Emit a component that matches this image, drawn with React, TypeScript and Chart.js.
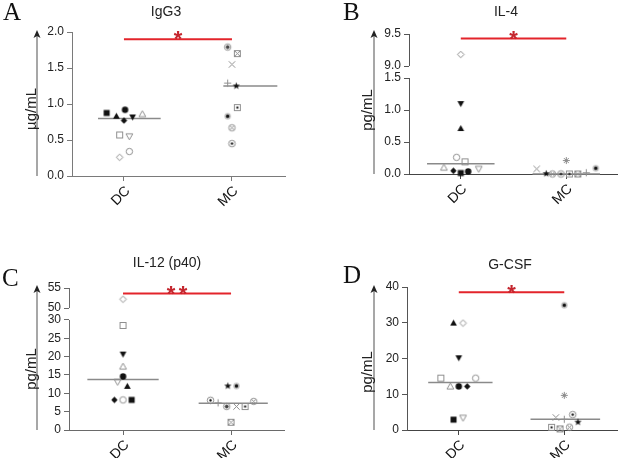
import React, { useEffect, useRef } from "react";
import { Chart, registerables } from "chart.js";
Chart.register(...registerables);

const categories = ["DC", "MC"];

// ---------- Panel A : IgG3 (µg/mL) ----------
const igg3DC = [0.875, 0.83, 0.92, 0.77, 0.82, 0.86, 0.57, 0.55, 0.26, 0.34];
const igg3DCJitter = [-0.16, -0.07, 0.01, 0, 0.08, 0.17, -0.04, 0.05, -0.04, 0.05];
const igg3DCMarkers = ["fsq", "ftu", "fci", "fdi", "ftd", "otu", "osq", "otd", "odi", "oci"];
const igg3MC = [1.79, 1.7, 1.55, 1.29, 1.25, 0.95, 0.83, 0.67, 0.45];
const igg3MCJitter = [-0.04, 0.05, 0, -0.04, 0.04, 0.05, -0.04, 0, 0];
const igg3MCMarkers = ["ciast", "sqx", "x", "plus", "fst", "sqdot", "cidotf", "cix", "cidot"];
const igg3Medians = [0.8, 1.25];
const igg3MedianSpans = [[-0.24, 0.34], [-0.08, 0.42]];
const igg3Sig = 1.9;
const igg3Ticks = [0, 0.5, 1.0, 1.5, 2.0];

// ---------- Panel B : IL-4 (pg/mL) ----------
const il4DC = [9.18, 1.1, 0.71, 0.26, 0.19, 0.1, 0.05, 0.015, 0.04, 0.08];
const il4DCJitter = [0, 0, 0, -0.04, 0.04, -0.16, -0.07, 0, 0.07, 0.17];
const il4DCMarkers = ["odi", "ftd", "ftu", "oci", "osq", "otu", "fdi", "fsq", "fci", "otd"];
const il4MC = [0.08, 0.005, 0, 0, 0, 0, 0.02, 0.09, 0.21];
const il4MCJitter = [-0.28, -0.19, -0.13, -0.05, 0.03, 0.11, 0.19, 0.28, 0];
const il4MCMarkers = ["x", "fst", "cix", "cidot", "sqdot", "sqx", "plus", "cidotf", "ast"];
const il4Medians = [0.16, 0.0];
const il4MedianSpans = [[-0.32, 0.32], [-0.32, 0.32]];
const il4Sig = 9.43;
const il4Ticks = [0, 0.5, 1.0, 1.5, 9.0, 9.5];

// ---------- Panel C : IL-12 (p40) (pg/mL) ----------
const il12DC = [52.2, 28.5, 20.7, 17.3, 14.6, 13.1, 11.9, 8.2, 8.2, 8.2];
const il12DCJitter = [0, 0, 0, 0, 0, -0.05, 0.04, -0.08, 0, 0.08];
const il12DCMarkers = ["odi", "osq", "ftd", "otu", "fci", "otd", "ftu", "fdi", "oci", "fsq"];
const il12MC = [12.0, 12.0, 8.1, 7.4, 6.4, 6.4, 6.4, 7.8, 2.1];
const il12MCJitter = [-0.03, 0.05, -0.19, -0.12, -0.04, 0.05, 0.13, 0.21, 0];
const il12MCMarkers = ["fst", "cidotf", "cidot", "plus", "ciast", "x", "sqdot", "cix", "sqx"];
const il12Medians = [13.8, 7.3];
const il12MedianSpans = [[-0.33, 0.33], [-0.3, 0.34]];
const il12Sig = 53.6;
const il12Ticks = [0, 5, 10, 15, 20, 25, 30, 50, 55];

// ---------- Panel D : G-CSF (pg/mL) ----------
const gcsfDC = [29.9, 29.9, 20.2, 14.5, 14.5, 12.2, 12.2, 12.2, 2.9, 3.4];
const gcsfDCJitter = [-0.05, 0.04, 0, -0.17, 0.16, -0.08, 0, 0.08, -0.05, 0.04];
const gcsfDCMarkers = ["ftu", "odi", "ftd", "osq", "oci", "otu", "fci", "fdi", "fsq", "otd"];
const gcsfMC = [34.9, 9.7, 3.5, 3.0, 4.3, 2.2, 0.75, 0.3, 0.8];
const gcsfMCJitter = [0, 0, -0.08, 0, 0.08, 0.13, -0.12, -0.04, 0.05];
const gcsfMCMarkers = ["cidotf", "ast", "x", "plus", "cidot", "fst", "sqdot", "sqx", "cix"];
const gcsfMedians = [13.3, 3.0];
const gcsfMedianSpans = [[-0.29, 0.32], [-0.32, 0.34]];
const gcsfSig = 38.5;
const gcsfTicks = [0, 10, 20, 30, 40];

const SANS = '"Liberation Sans", Arial, Helvetica, sans-serif';
const SERIF = '"Liberation Serif", "Times New Roman", serif';

type Brk = { lowMax: number; gap: number; highMin: number; highK: number };

type PanelCfg = {
  letter: string; title: string; unit: string; stars: number;
  x: number; y: number;
  area: { left: number; right: number; top: number; bottom: number };
  xMin: number; xMax: number; yMax: number; brk?: Brk; decimals: number;
  ticks: number[];
  dc: number[]; dcJ: number[]; dcM: string[];
  mc: number[]; mcJ: number[]; mcM: string[];
  med: number[]; spans: number[][]; sig: number;
  axisColor: string; xAxisColor: string;
  letterPos: [number, number]; titlePos: [number, number];
  arrowX: number; arrowTip: number; labelPos: [number, number];
};

function makeMarker(kind: string): HTMLCanvasElement {
  const S = 13;
  const c = document.createElement("canvas");
  c.width = S; c.height = S;
  const g = c.getContext("2d")!;
  g.translate(S / 2, S / 2);
  const black = "#111";
  const gray = "#8f8f8f";
  const dark = "#444";
  g.lineWidth = 1;
  const poly = (pts: number[][]) => {
    g.beginPath();
    pts.forEach((p, i) => (i ? g.lineTo(p[0], p[1]) : g.moveTo(p[0], p[1])));
    g.closePath();
  };
  const circ = (r: number) => { g.beginPath(); g.arc(0, 0, r, 0, Math.PI * 2); };
  const line = (a: number, b: number, c2: number, d: number) => { g.beginPath(); g.moveTo(a, b); g.lineTo(c2, d); g.stroke(); };
  switch (kind) {
    case "fsq": g.fillStyle = black; g.fillRect(-3, -3, 6, 6); break;
    case "fci": g.fillStyle = black; circ(3.2); g.fill(); break;
    case "ftu": g.fillStyle = black; poly([[0, -3.4], [3.4, 2.6], [-3.4, 2.6]]); g.fill(); break;
    case "ftd": g.fillStyle = black; poly([[0, 3.4], [3.4, -2.6], [-3.4, -2.6]]); g.fill(); break;
    case "fdi": g.fillStyle = black; poly([[0, -3.2], [3.2, 0], [0, 3.2], [-3.2, 0]]); g.fill(); break;
    case "fst": {
      g.fillStyle = black;
      const pts: number[][] = [];
      for (let i = 0; i < 10; i++) {
        const r = i % 2 ? 1.6 : 3.8;
        const a = -Math.PI / 2 + (i * Math.PI) / 5;
        pts.push([r * Math.cos(a), r * Math.sin(a)]);
      }
      poly(pts); g.fill(); break;
    }
    case "osq": g.strokeStyle = gray; g.strokeRect(-3, -3, 6, 6); break;
    case "oci": g.strokeStyle = gray; circ(3.2); g.stroke(); break;
    case "otu": g.strokeStyle = gray; poly([[0, -3.4], [3.4, 2.6], [-3.4, 2.6]]); g.stroke(); break;
    case "otd": g.strokeStyle = gray; poly([[0, 3.4], [3.4, -2.6], [-3.4, -2.6]]); g.stroke(); break;
    case "odi": g.strokeStyle = gray; poly([[0, -3.3], [3.3, 0], [0, 3.3], [-3.3, 0]]); g.stroke(); break;
    case "x": g.strokeStyle = gray; line(-3.2, -3.2, 3.2, 3.2); line(-3.2, 3.2, 3.2, -3.2); break;
    case "plus": g.strokeStyle = gray; line(-3.6, 0, 3.6, 0); line(0, -3.6, 0, 3.6); break;
    case "ast":
      g.strokeStyle = gray;
      line(-3.5, 0, 3.5, 0); line(0, -3.5, 0, 3.5);
      line(-2.5, -2.5, 2.5, 2.5); line(-2.5, 2.5, 2.5, -2.5);
      break;
    case "sqx":
      g.strokeStyle = gray; g.strokeRect(-3, -3, 6, 6);
      line(-3, -3, 3, 3); line(-3, 3, 3, -3);
      break;
    case "sqdot":
      g.strokeStyle = gray; g.strokeRect(-3, -3, 6, 6);
      g.fillStyle = black; g.fillRect(-1, -1, 2, 2);
      break;
    case "cix":
      g.strokeStyle = gray; circ(3.2); g.stroke();
      line(-2.2, -2.2, 2.2, 2.2); line(-2.2, 2.2, 2.2, -2.2);
      break;
    case "cidot":
      g.strokeStyle = gray; circ(3.3); g.stroke();
      g.fillStyle = black; circ(1.2); g.fill();
      break;
    case "cidotf":
      g.fillStyle = "#bdbdbd"; circ(3.2); g.fill();
      g.fillStyle = black; circ(1.7); g.fill();
      break;
    case "ciast":
      g.strokeStyle = gray; circ(3.2); g.stroke();
      g.strokeStyle = dark;
      line(-2, 0, 2, 0); line(0, -2, 0, 2); line(-1.4, -1.4, 1.4, 1.4); line(-1.4, 1.4, 1.4, -1.4);
      break;
  }
  return c;
}

const panels: PanelCfg[] = [
  {
    letter: "A", title: "IgG3", unit: "µg/mL", stars: 1, x: 0, y: 0,
    area: { left: 72, right: 285, top: 32, bottom: 176 },
    xMin: 0.519, xMax: 2.491, yMax: 2.0, decimals: 1, ticks: igg3Ticks,
    dc: igg3DC, dcJ: igg3DCJitter, dcM: igg3DCMarkers,
    mc: igg3MC, mcJ: igg3MCJitter, mcM: igg3MCMarkers,
    med: igg3Medians, spans: igg3MedianSpans, sig: igg3Sig,
    axisColor: "#7a7a7a", xAxisColor: "#7a7a7a",
    letterPos: [3, 20], titlePos: [166, 12],
    arrowX: 37, arrowTip: 30, labelPos: [36, 109],
  },
  {
    letter: "B", title: "IL-4", unit: "pg/mL", stars: 1, x: 311, y: 0,
    area: { left: 98, right: 311, top: 34, bottom: 174 },
    xMin: 0.509, xMax: 2.481, yMax: 9.5, decimals: 1, ticks: il4Ticks,
    brk: { lowMax: 1.5, gap: 0.1875, highMin: 9.0, highK: 1 },
    dc: il4DC, dcJ: il4DCJitter, dcM: il4DCMarkers,
    mc: il4MC, mcJ: il4MCJitter, mcM: il4MCMarkers,
    med: il4Medians, spans: il4MedianSpans, sig: il4Sig,
    axisColor: "#555", xAxisColor: "#444",
    letterPos: [32, 20], titlePos: [195, 12],
    arrowX: 63, arrowTip: 30, labelPos: [61, 110],
  },
  {
    letter: "C", title: "IL-12 (p40)", unit: "pg/mL", stars: 2, x: 0, y: 229,
    area: { left: 69, right: 284, top: 59, bottom: 201 },
    xMin: 0.5, xMax: 2.49, yMax: 55, decimals: 0, ticks: il12Ticks,
    brk: { lowMax: 30, gap: 3.27, highMin: 50, highK: 1.0909 },
    dc: il12DC, dcJ: il12DCJitter, dcM: il12DCMarkers,
    mc: il12MC, mcJ: il12MCJitter, mcM: il12MCMarkers,
    med: il12Medians, spans: il12MedianSpans, sig: il12Sig,
    axisColor: "#6a6a6a", xAxisColor: "#6a6a6a",
    letterPos: [2, 57], titlePos: [167, 34],
    arrowX: 37, arrowTip: 56, labelPos: [36, 140],
  },
  {
    letter: "D", title: "G-CSF", unit: "pg/mL", stars: 1, x: 311, y: 229,
    area: { left: 96, right: 311, top: 58, bottom: 201 },
    xMin: 0.509, xMax: 2.5, yMax: 40, decimals: 0, ticks: gcsfTicks,
    dc: gcsfDC, dcJ: gcsfDCJitter, dcM: gcsfDCMarkers,
    mc: gcsfMC, mcJ: gcsfMCJitter, mcM: gcsfMCMarkers,
    med: gcsfMedians, spans: gcsfMedianSpans, sig: gcsfSig,
    axisColor: "#555", xAxisColor: "#444",
    letterPos: [32, 54], titlePos: [199, 36],
    arrowX: 63, arrowTip: 56, labelPos: [61, 143],
  },
];

const W = 311;
const H = 229;
const XH = 40;

function PanelChart({ p }: { p: PanelCfg }) {
  const ref = useRef<HTMLCanvasElement>(null);
  useEffect(() => {
    const canvas = ref.current!;
    const brk = p.brk;
    const toU = (v: number) =>
      !brk || v <= brk.lowMax ? v : brk.lowMax + brk.gap + (v - brk.highMin) * brk.highK;
    const tickLabels = p.ticks.map((t) => t.toFixed(p.decimals));

    const deco = {
      id: "deco" + p.letter,
      afterDraw(chart: any) {
        const ctx = chart.ctx as CanvasRenderingContext2D;
        const xs = chart.scales.x;
        const ys = chart.scales.y;
        ctx.save();
        // broken y axis line
        if (brk) {
          ctx.strokeStyle = p.axisColor;
          ctx.lineWidth = 1;
          const segs = [[0, brk.lowMax], [brk.highMin, p.yMax]];
          const ax = Math.round(chart.chartArea.left) + 0.5;
          segs.forEach(([a, b]) => {
            ctx.beginPath();
            ctx.moveTo(ax, ys.getPixelForValue(toU(a)));
            ctx.lineTo(ax, ys.getPixelForValue(toU(b)));
            ctx.stroke();
          });
        }
        // panel letter
        ctx.fillStyle = "#111";
        ctx.font = "25px " + SERIF;
        ctx.textAlign = "left";
        ctx.textBaseline = "alphabetic";
        ctx.fillText(p.letter, p.letterPos[0], p.letterPos[1]);
        // title
        ctx.font = "14px " + SANS;
        ctx.textAlign = "center";
        ctx.textBaseline = "middle";
        ctx.fillStyle = "#222";
        ctx.fillText(p.title, p.titlePos[0], p.titlePos[1]);
        // arrow
        const bottomPx = chart.chartArea.bottom;
        ctx.strokeStyle = "#8a8a8a";
        ctx.lineWidth = 1.5;
        ctx.beginPath();
        ctx.moveTo(p.arrowX, bottomPx);
        ctx.lineTo(p.arrowX, p.arrowTip + 5);
        ctx.stroke();
        ctx.fillStyle = "#222";
        ctx.beginPath();
        ctx.moveTo(p.arrowX, p.arrowTip);
        ctx.lineTo(p.arrowX + 3.5, p.arrowTip + 8);
        ctx.lineTo(p.arrowX, p.arrowTip + 6);
        ctx.lineTo(p.arrowX - 3.5, p.arrowTip + 8);
        ctx.closePath();
        ctx.fill();
        // unit label
        ctx.save();
        ctx.translate(p.labelPos[0], p.labelPos[1]);
        ctx.rotate(-Math.PI / 2);
        ctx.font = "15px " + SANS;
        ctx.fillStyle = "#222";
        ctx.textAlign = "center";
        ctx.textBaseline = "alphabetic";
        ctx.fillText(p.unit, 0, 0);
        ctx.restore();
        // significance stars
        const cx = (xs.getPixelForValue(1) + xs.getPixelForValue(2)) / 2;
        const ly = ys.getPixelForValue(toU(p.sig));
        ctx.font = "bold 22px " + SANS;
        ctx.fillStyle = "#c4262e";
        ctx.textAlign = "center";
        ctx.textBaseline = "alphabetic";
        const base = ly - 5.5 + 0.575 * 22;
        if (p.stars === 1) ctx.fillText("*", cx, base);
        else {
          ctx.fillText("*", cx - 6, base);
          ctx.fillText("*", cx + 6, base);
        }
        ctx.restore();
      },
    };

    const lineDs = (pts: { x: number; y: number }[], color: string, width: number) => ({
      data: pts,
      showLine: true,
      borderColor: color,
      borderWidth: width,
      pointRadius: 0,
      order: 1,
      clip: false,
    });

    const chart = new Chart(canvas, {
      type: "scatter",
      data: {
        datasets: [
          {
            data: p.dc.map((v, i) => ({ x: 1 + p.dcJ[i], y: toU(v) })),
            pointStyle: p.dcM.map(makeMarker),
            pointRadius: 4,
            order: 0,
            clip: false,
          },
          {
            data: p.mc.map((v, i) => ({ x: 2 + p.mcJ[i], y: toU(v) })),
            pointStyle: p.mcM.map(makeMarker),
            pointRadius: 4,
            order: 0,
            clip: false,
          },
          lineDs([{ x: 1 + p.spans[0][0], y: toU(p.med[0]) }, { x: 1 + p.spans[0][1], y: toU(p.med[0]) }], "#8a8a8a", 1.5),
          lineDs([{ x: 2 + p.spans[1][0], y: toU(p.med[1]) }, { x: 2 + p.spans[1][1], y: toU(p.med[1]) }], "#8a8a8a", 1.5),
          lineDs([{ x: 1, y: toU(p.sig) }, { x: 2, y: toU(p.sig) }], "#e3242b", 2),
        ] as any,
      },
      options: {
        responsive: false,
        animation: false,
        events: [],
        layout: {
          padding: { left: 0, top: p.area.top, right: W - p.area.right, bottom: H - p.area.bottom - XH },
        },
        plugins: { legend: { display: false }, tooltip: { enabled: false }, title: { display: false } },
        scales: {
          x: {
            type: "linear",
            min: p.xMin,
            max: p.xMax,
            afterBuildTicks: (s: any) => { s.ticks = [{ value: 1 }, { value: 2 }]; },
            afterFit: (s: any) => { s.height = XH; s.paddingLeft = 0; s.paddingRight = 0; },
            ticks: {
              autoSkip: false,
              minRotation: 45,
              maxRotation: 45,
              padding: 2,
              labelOffset: 4,
              color: "#111",
              font: { family: SANS, size: 14 },
              callback: (_v: any, i: number) => categories[i],
            },
            grid: { drawOnChartArea: false, drawTicks: true, tickLength: 5, color: p.xAxisColor, tickColor: p.xAxisColor, lineWidth: 1 },
            border: { display: true, color: p.xAxisColor, width: 1 },
          },
          y: {
            type: "linear",
            min: 0,
            max: toU(p.yMax),
            afterBuildTicks: (s: any) => { s.ticks = p.ticks.map((t) => ({ value: toU(t) })); },
            afterFit: (s: any) => { s.width = p.area.left; s.paddingTop = 0; s.paddingBottom = 0; },
            ticks: {
              autoSkip: false,
              padding: 3,
              color: "#222",
              font: { family: SANS, size: 12 },
              callback: (_v: any, i: number) => tickLabels[i],
            },
            grid: { drawOnChartArea: false, drawTicks: true, tickLength: 5, color: p.axisColor, tickColor: p.axisColor, lineWidth: 1 },
            border: { display: !brk, color: p.axisColor, width: 1 },
          },
        },
      } as any,
      plugins: [deco],
    });
    return () => chart.destroy();
  }, [p]);
  return (
    <canvas
      ref={ref}
      width={W}
      height={H}
      style={{ position: "absolute", left: p.x, top: p.y, width: W, height: H, display: "block" }}
    />
  );
}

export default function App() {
  return (
    <div style={{ position: "absolute", left: 0, top: 0, width: 622, height: 458, background: "#fff", overflow: "hidden" }}>
      {panels.map((p) => (
        <PanelChart key={p.letter} p={p} />
      ))}
    </div>
  );
}
